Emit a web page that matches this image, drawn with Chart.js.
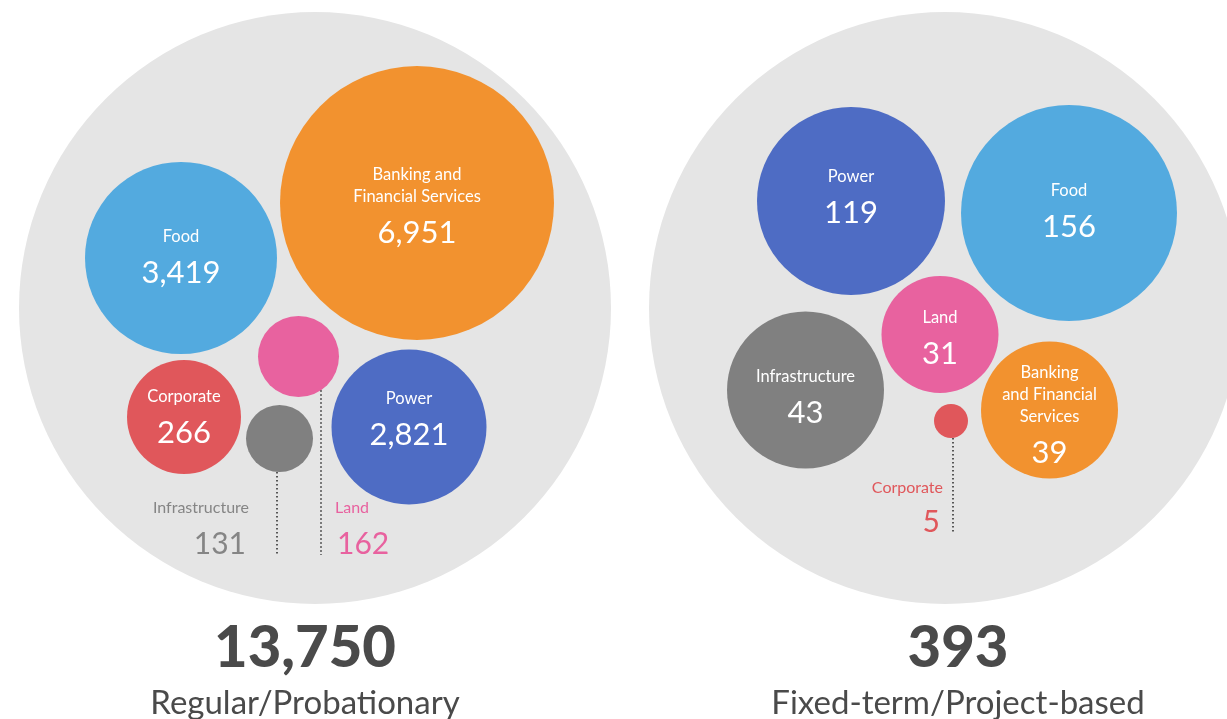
<!DOCTYPE html>
<html>
<head>
<meta charset="utf-8">
<script src="https://cdn.jsdelivr.net/npm/chart.js@4/dist/chart.umd.min.js"></script>
<style>
    html, body { margin: 0; padding: 0; background: #ffffff; }
    #bubbles { display: block; }
</style>
</head>
<body>
<canvas id="bubbles" width="1227" height="719"></canvas>
<script>
// Employees per business unit, by type of employment
const categories = ['Banking and Financial Services', 'Food', 'Power', 'Corporate', 'Land', 'Infrastructure'];
const regularCounts = [6951, 3419, 2821, 266, 162, 131];
const fixedTermCounts = [39, 156, 119, 5, 31, 43];
const groupTitles = ['Regular/Probationary', 'Fixed-term/Project-based'];

const unitColors = {
    'Banking and Financial Services': '#f2922f',
    'Food': '#53aadf',
    'Power': '#4e6cc4',
    'Corporate': '#e0575b',
    'Land': '#e8629f',
    'Infrastructure': '#808080'
};

// Packing layout (canvas pixels): outer circle per group, then one entry per unit
const groups = [
    {
        counts: regularCounts,
        title: groupTitles[0],
        outer: { x: 315, y: 308, r: 296 },
        totalX: 305,
        units: {
            'Banking and Financial Services': { x: 417, y: 203, r: 137, dy: 12, lines: ['Banking and', 'Financial Services'] },
            'Food': { x: 181, y: 258, r: 96, dy: -3 },
            'Power': { x: 409, y: 427, r: 77.5, dy: -10 },
            'Corporate': { x: 184, y: 417, r: 57, dy: -2 },
            'Land': { x: 298.5, y: 356.5, r: 40.5, outside: { align: 'left', textX: 335, lineX: 321, lineEnd: 555, nameY: 508, valueY: 544 } },
            'Infrastructure': { x: 279.5, y: 438.5, r: 33.5, outside: { align: 'right', textX: 249, lineX: 277, lineEnd: 555, nameY: 508, valueY: 544 } }
        }
    },
    {
        counts: fixedTermCounts,
        title: groupTitles[1],
        outer: { x: 945, y: 308, r: 296 },
        totalX: 958,
        units: {
            'Banking and Financial Services': { x: 1049.5, y: 410, r: 68.5, dy: 25, lines: ['Banking', 'and Financial', 'Services'] },
            'Food': { x: 1069, y: 213, r: 108, dy: -4 },
            'Power': { x: 851, y: 201, r: 94, dy: -6 },
            'Corporate': { x: 951, y: 421, r: 17, outside: { align: 'right', textX: 943, lineX: 953, lineEnd: 533, nameY: 488, valueY: 522 } },
            'Land': { x: 940, y: 334.5, r: 58.5, dy: 1 },
            'Infrastructure': { x: 805.5, y: 390, r: 78.5, dy: 5 }
        }
    }
];

const FONT = 'Lato, "Open Sans", sans-serif';
const fmt = n => n.toLocaleString('en-US');

// Grey background circles (higher order = drawn first, behind the units)
const outerDataset = {
    label: 'groups',
    order: 1,
    data: groups.map(g => ({ x: g.outer.x, y: g.outer.y, r: g.outer.r })),
    backgroundColor: '#e5e5e5',
    borderWidth: 0,
    hoverRadius: 0,
    clip: false
};

// One dataset per unit, one bubble per group
const unitDatasets = categories.map(cat => ({
    label: cat,
    order: 0,
    data: groups.map(g => ({ x: g.units[cat].x, y: g.units[cat].y, r: g.units[cat].r })),
    backgroundColor: unitColors[cat],
    borderWidth: 0,
    hoverRadius: 0,
    clip: false
}));

// Texts inside the bubbles, leader lines, totals and group titles
const labelPlugin = {
    id: 'bubbleLabels',
    afterDatasetsDraw(chart) {
        const ctx = chart.ctx;
        const xs = chart.scales.x, ys = chart.scales.y;
        ctx.save();
        ctx.textBaseline = 'middle';

        groups.forEach(g => {
            categories.forEach((cat, i) => {
                const u = g.units[cat];
                const value = g.counts[i];
                const cx = xs.getPixelForValue(u.x);
                const cy = ys.getPixelForValue(u.y);

                if (u.outside) {
                    const o = u.outside;
                    // dotted leader from the bubble down to the label
                    const dx = o.lineX - cx;
                    const startY = cy + Math.sqrt(Math.max(u.r * u.r - dx * dx, 0));
                    ctx.strokeStyle = '#333333';
                    ctx.lineWidth = 1.6;
                    ctx.setLineDash([1.6, 2.4]);
                    ctx.beginPath();
                    ctx.moveTo(o.lineX, startY);
                    ctx.lineTo(o.lineX, o.lineEnd);
                    ctx.stroke();
                    ctx.setLineDash([]);

                    const color = cat === 'Infrastructure' ? '#858585' : unitColors[cat];
                    ctx.fillStyle = color;
                    ctx.textAlign = o.align;
                    ctx.font = '16px ' + FONT;
                    ctx.fillText(cat, o.textX, o.nameY);
                    ctx.font = '30px ' + FONT;
                    ctx.fillText(fmt(value), o.textX + (o.align === 'left' ? 2 : -3), o.valueY);
                    return;
                }

                const lines = u.lines || [cat];
                const base = cy + (u.dy || 0);
                ctx.fillStyle = '#ffffff';
                ctx.textAlign = 'center';
                ctx.font = '16.5px ' + FONT;
                lines.forEach((line, k) => {
                    ctx.fillText(line, cx, base - 18 - 22 * (lines.length - 1 - k));
                });
                ctx.font = '31px ' + FONT;
                ctx.fillText(fmt(value), cx, base + 18);
            });

            const total = g.counts.reduce((a, b) => a + b, 0);
            ctx.fillStyle = '#4a4a4a';
            ctx.textAlign = 'center';
            ctx.font = '900 58px ' + FONT;
            ctx.fillText(fmt(total), g.totalX, 648);
            ctx.font = '33px ' + FONT;
            ctx.fillText(g.title, g.totalX, 703);
        });
        ctx.restore();
    }
};

new Chart(document.getElementById('bubbles'), {
    type: 'bubble',
    data: { datasets: [outerDataset, ...unitDatasets] },
    options: {
        responsive: false,
        animation: false,
        events: [],
        layout: { padding: 0, autoPadding: false },
        plugins: {
            legend: { display: false },
            tooltip: { enabled: false }
        },
        scales: {
            x: { type: 'linear', min: 0, max: 1227, display: false },
            y: { type: 'linear', min: 0, max: 719, reverse: true, display: false }
        }
    },
    plugins: [labelPlugin]
});
</script>
</body>
</html>
